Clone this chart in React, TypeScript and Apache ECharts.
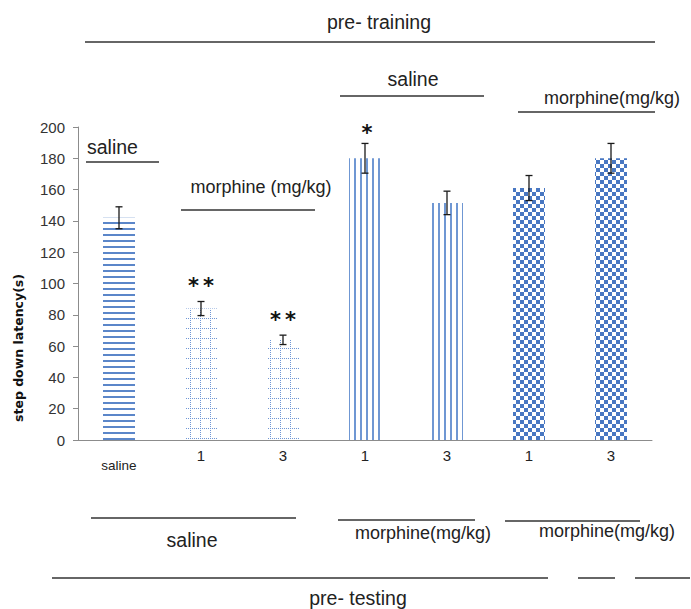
import React, { useEffect, useRef } from 'react';
import * as echarts from 'echarts';

const categories = ['saline', '1', '3', '1', '3', '1', '3'];
const means = [142, 84, 64, 180, 151.5, 161, 180];
const errors = [7, 4.5, 3, 9.5, 7.5, 8, 9.5];
const stars = ['', '**', '**', '*', '', '', ''];
const patterns = ['hlines', 'grid', 'grid', 'vlines', 'vlines', 'checker', 'checker'];

const FONT = '"Liberation Sans", Arial, sans-serif';

const decals: Record<string, any> = {
  hlines: {
    symbol: 'rect', symbolSize: 1, symbolKeepAspect: false,
    color: '#5b86c9', dashArrayX: [[20, 0]], dashArrayY: [2, 3.2],
  },
  grid: {
    symbol: 'rect', symbolSize: 1, symbolKeepAspect: false,
    color: '#6f96d4',
    dashArrayX: [[1, 1], [1, 9], [1, 9], [1, 9], [1, 9]],
    dashArrayY: [1, 1],
  },
  vlines: {
    symbol: 'rect', symbolSize: 1, symbolKeepAspect: false,
    color: '#6f97d3', dashArrayX: [[1.5, 3.6]], dashArrayY: [20, 0],
  },
  checker: {
    symbol: 'rect', symbolSize: 1, symbolKeepAspect: false,
    color: '#4877c2', dashArrayX: [[4, 4], [0, 4, 4, 0]], dashArrayY: [4, 0],
  },
};

const line = (x1: number, y1: number, x2: number, y2: number) => ({
  type: 'line',
  shape: { x1, y1, x2, y2 },
  style: { stroke: '#333', lineWidth: 1.3 },
  silent: true,
});

const text = (t: string, x: number, y: number, size: number, align = 'center') => ({
  type: 'text',
  x, y,
  style: {
    text: t, fill: '#222', font: `${size}px ${FONT}`,
    align, verticalAlign: 'middle',
  },
  silent: true,
});

export default function App() {
  const ref = useRef<HTMLDivElement>(null);
  useEffect(() => {
    if (!ref.current) return;
    const chart = echarts.init(ref.current, null, { renderer: 'svg' });
    chart.setOption({
      animation: false,
      backgroundColor: '#fff',
      textStyle: { fontFamily: FONT },
      grid: { left: 78, right: 39, top: 127, bottom: 169 },
      xAxis: {
        type: 'category',
        data: categories,
        axisLine: { lineStyle: { color: '#8c8c8c' } },
        axisTick: { length: 5, lineStyle: { color: '#8c8c8c' } },
        axisLabel: {
          margin: 8,
          formatter: (v: string) => (v === 'saline' ? '{s|' + v + '}' : '{n|' + v + '}'),
          rich: {
            s: { fontSize: 13.5, color: '#222', padding: [10, 0, 0, 0], fontFamily: FONT },
            n: { fontSize: 15, color: '#222', fontFamily: FONT },
          },
        },
      },
      yAxis: {
        type: 'value',
        min: 0,
        max: 200,
        interval: 20,
        splitLine: { show: false },
        axisLine: { show: true, lineStyle: { color: '#8c8c8c' } },
        axisTick: { show: true, length: 5, lineStyle: { color: '#8c8c8c' } },
        axisLabel: { fontSize: 15, color: '#333', margin: 13 },
      },
      series: [
        {
          type: 'bar',
          barWidth: 32,
          data: means.map((v, i) => ({
            value: v,
            itemStyle: { color: '#ffffff', decal: decals[patterns[i]] },
          })),
        },
        {
          type: 'custom',
          z: 10,
          data: means.map((m, i) => [i, m - errors[i], m + errors[i]]),
          encode: { x: 0, y: [1, 2] },
          renderItem: (params: any, api: any) => {
            const x = api.value(0);
            const lo = api.coord([x, api.value(1)]);
            const hi = api.coord([x, api.value(2)]);
            const hw = 3.5;
            const st = { stroke: '#1a1a1a', lineWidth: 1.3 };
            const children: any[] = [
              { type: 'line', shape: { x1: lo[0], y1: lo[1], x2: hi[0], y2: hi[1] }, style: st },
              { type: 'line', shape: { x1: lo[0] - hw, y1: lo[1], x2: lo[0] + hw, y2: lo[1] }, style: st },
              { type: 'line', shape: { x1: hi[0] - hw, y1: hi[1], x2: hi[0] + hw, y2: hi[1] }, style: st },
            ];
            const s = stars[params.dataIndex];
            if (s) {
              children.push({
                type: 'text',
                style: {
                  text: s.split('').join('\u2009'),
                  x: hi[0] + (s.length > 1 ? 0 : 2),
                  y: hi[1] - (s.length > 1 ? 15 : 10),
                  align: 'center',
                  verticalAlign: 'middle',
                  font: `bold 21px "DejaVu Sans", sans-serif`,
                  fill: '#111',
                },
              });
            }
            return { type: 'group', children };
          },
        },
      ],
      graphic: [
        text('pre- training', 379, 22, 19.5),
        line(85, 42, 655, 42),
        text('saline', 413, 79, 19.5),
        line(340, 96, 484, 96),
        text('morphine(mg/kg)', 612, 98, 18),
        line(518, 112, 655, 112),
        text('saline', 87, 147, 19.5, 'left'),
        line(86, 162, 159, 162),
        text('morphine (mg/kg)', 261, 187, 18),
        line(181, 210, 315, 210),
        {
          type: 'text',
          x: 18,
          y: 348,
          rotation: Math.PI / 2,
          style: {
            text: 'step down latency(s)',
            fill: '#111',
            font: `bold 12.5px "DejaVu Sans", sans-serif`,
            align: 'center',
            verticalAlign: 'middle',
          },
          silent: true,
        },
        line(91, 518, 296, 518),
        text('saline', 192, 540, 19.5),
        line(338, 520, 475, 520),
        text('morphine(mg/kg)', 423, 533, 18),
        line(505, 521, 640, 521),
        text('morphine(mg/kg)', 607, 531, 18),
        line(52, 578, 548, 578),
        line(578, 578, 615, 578),
        line(635, 578, 690, 578),
        text('pre- testing', 358, 598, 19.5),
      ],
    });
    return () => chart.dispose();
  }, []);
  return (
    <div
      ref={ref}
      style={{ position: 'absolute', left: 0, top: 0, width: 691, height: 609 }}
    />
  );
}
